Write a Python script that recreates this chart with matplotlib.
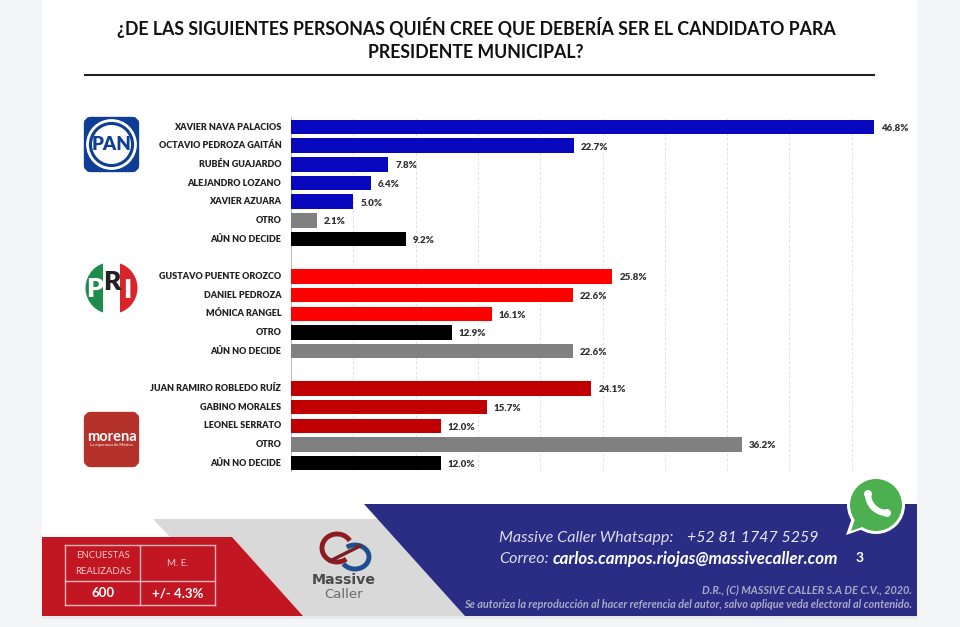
import matplotlib
matplotlib.use("Agg")
import matplotlib.pyplot as plt
from matplotlib.patches import Polygon, Rectangle, Circle, FancyBboxPatch, Wedge, Arc
import numpy as np

plt.rcParams["font.family"] = ["Lato", "DejaVu Sans"]

W, H = 960, 627

PAN_NAMES = ["XAVIER NAVA PALACIOS", "OCTAVIO PEDROZA GAITÁN", "RUBÉN GUAJARDO",
             "ALEJANDRO LOZANO", "XAVIER AZUARA", "OTRO", "AÚN NO DECIDE"]
PAN_VALUES = [46.8, 22.7, 7.8, 6.4, 5.0, 2.1, 9.2]

PRI_NAMES = ["GUSTAVO PUENTE OROZCO", "DANIEL PEDROZA", "MÓNICA RANGEL", "OTRO", "AÚN NO DECIDE"]
PRI_VALUES = [25.8, 22.6, 16.1, 12.9, 22.6]

MORENA_NAMES = ["JUAN RAMIRO ROBLEDO RUÍZ", "GABINO MORALES", "LEONEL SERRATO", "OTRO", "AÚN NO DECIDE"]
MORENA_VALUES = [24.1, 15.7, 12.0, 36.2, 12.0]

BLUE, RED, DARK_RED, GRAY, BLACK = "#0808BE", "#FF0000", "#C00000", "#808080", "#000000"
PAN_COLORS = [BLUE] * 5 + [GRAY, BLACK]
PRI_COLORS = [RED] * 3 + [BLACK, GRAY]
MORENA_COLORS = [DARK_RED] * 3 + [GRAY, BLACK]

GROUP_START = [0, 8, 14]

fig = plt.figure(figsize=(W / 100, H / 100), dpi=100, facecolor="#F3F5F7")

# page + decorations live in a pixel-coordinate axes
bg = fig.add_axes([0, 0, 1, 1], zorder=0)
bg.set_xlim(0, W)
bg.set_ylim(H, 0)
bg.axis("off")

bg.add_patch(Rectangle((42, 0), 875, 617, fc="white", ec="none"))
bg.add_patch(Rectangle((42, 616), 875, 3, fc="#E6E8EA", ec="none"))

bg.text(476, 27, "¿DE LAS SIGUIENTES PERSONAS QUIÉN CREE QUE DEBERÍA SER EL CANDIDATO PARA",
        ha="center", va="center", fontsize=12.75, fontweight="bold", color="#111111")
bg.text(476, 52, "PRESIDENTE MUNICIPAL?", ha="center", va="center",
        fontsize=12.75, fontweight="bold", color="#111111")
bg.plot([85, 874], [75, 75], color="#222222", lw=1.5)

# footer shapes
bg.add_patch(Polygon([(153, 519), (400, 519), (490, 616), (303, 616), (232, 537), (170, 537)],
                     fc="#D9D9D9", ec="none"))
bg.add_patch(Polygon([(42, 537), (232, 537), (303, 616), (42, 616)], fc="#C21623", ec="none"))
bg.add_patch(Polygon([(364, 504), (917, 504), (917, 616), (465, 616)], fc="#2B2D84", ec="none"))

# table in the red block
tbl = "#EFB7BA"
for x0, x1, y0, y1 in [(65, 215, 545, 545), (65, 215, 581, 581), (65, 215, 605, 605),
                       (65, 65, 545, 605), (140, 140, 545, 605), (215, 215, 545, 605)]:
    bg.plot([x0, x1], [y0, y1], color=tbl, lw=1)
bg.text(103, 556, "ENCUESTAS", ha="center", va="center", fontsize=6.8, color="#F3C9CB")
bg.text(103, 571, "REALIZADAS", ha="center", va="center", fontsize=6.8, color="#F3C9CB")
bg.text(178, 564, "M. E.", ha="center", va="center", fontsize=7, color="#F3C9CB")
bg.text(103, 593, "600", ha="center", va="center", fontsize=9.5, fontweight="bold", color="white")
bg.text(178, 593, "+/- 4.3%", ha="center", va="center", fontsize=9.5, fontweight="bold", color="white")

# massive caller logo
bg.add_patch(Arc((337, 548), 30, 28, theta1=50, theta2=330, color="#8E1B1E", lw=3.5))
bg.add_patch(Arc((355, 557), 28, 24, theta1=230, theta2=150, color="#1F4F8F", lw=3.5))
bg.plot([330, 360], [561, 546], color="#7A1F24", lw=2.5)
bg.text(344, 580, "Massive", ha="center", va="center", fontsize=10.2, color="#4A4A4A",
        fontweight="bold", family="DejaVu Sans")
bg.text(344, 594, "Caller", ha="center", va="center", fontsize=9.5, color="#6A6A6A",
        family="DejaVu Sans")

# footer contact text
bg.text(499, 538, "Massive Caller Whatsapp:", ha="left", va="center", fontsize=11.6,
        style="italic", color="#DADBEC")
bg.text(687, 538, "+52 81 1747 5259", ha="left", va="center", fontsize=11.4,
        style="italic", color="#E8E8F2")
bg.text(499, 559, "Correo:", ha="left", va="center", fontsize=11.6, style="italic",
        color="#DADBEC")
bg.text(553, 559, "carlos.campos.riojas@massivecaller.com", ha="left", va="center",
        fontsize=12.2, style="italic", fontweight="bold", color="white")
bg.text(860, 558, "3", ha="center", va="center", fontsize=10, fontweight="bold", color="white")
bg.text(912, 590, "D.R., (C) MASSIVE CALLER S.A DE C.V., 2020.", ha="right", va="center",
        fontsize=7.8, style="italic", fontweight="bold", color="#A8A9C8")
bg.text(912, 604, "Se autoriza la reproducción al hacer referencia del autor, salvo aplique veda electoral al contenido.",
        ha="right", va="center", fontsize=7.8, style="italic", fontweight="bold", color="#A8A9C8")

# whatsapp badge
bg.add_patch(Polygon([(846, 535), (853, 515), (866, 528)], fc="white", ec="none"))
bg.add_patch(Circle((876, 505), 29, fc="white", ec="none"))
bg.add_patch(Polygon([(851, 531), (856, 516), (865, 526)], fc="#4CAF50", ec="none"))
bg.add_patch(Circle((876, 505), 26, fc="#4CAF50", ec="none"))
bg.add_patch(Arc((887, 494), 38, 38, theta1=88, theta2=182, color="white", lw=4.5))
bg.add_patch(Circle((868, 494), 4, fc="white", ec="none"))
bg.add_patch(Circle((887, 513), 4, fc="white", ec="none"))

# party logos
bg.add_patch(FancyBboxPatch((88, 121), 47, 47, boxstyle="round,pad=0,rounding_size=3",
                            mutation_scale=1, fc="#0F3E96", ec="#0F3E96", lw=6))
bg.add_patch(Circle((111.5, 144.5), 24, fc="#0F3E96", ec="white", lw=2))
bg.add_patch(Circle((111.5, 144.5), 19.5, fc="white", ec="none"))
bg.text(111.5, 144.5, "PAN", ha="center", va="center", fontsize=13.5, fontweight="heavy",
        color="#0F3E96")

bg.add_patch(Wedge((111.5, 288), 26, 90, 270, width=26, fc="#1E8C4B", ec="none"))
bg.add_patch(Wedge((111.5, 288), 26, -90, 90, width=26, fc="#D9252A", ec="none"))
bg.add_patch(Rectangle((103, 260), 17, 56, fc="white", ec="none"))
bg.text(95, 289, "P", ha="center", va="center", fontsize=19, fontweight="heavy", color="white")
bg.text(112, 282, "R", ha="center", va="center", fontsize=19, fontweight="heavy", color="#222222")
bg.text(127, 290, "I", ha="center", va="center", fontsize=19, fontweight="heavy", color="white")

bg.add_patch(FancyBboxPatch((88, 416), 47, 47, boxstyle="round,pad=0,rounding_size=3",
                            mutation_scale=1, fc="#B5322B", ec="#B5322B", lw=6))
bg.text(111.5, 437, "morena", ha="center", va="center", fontsize=10.5, fontweight="bold", color="white")
bg.text(111.5, 445, "La esperanza de México", ha="center", va="center", fontsize=3, color="white")

# the chart itself, x in percent, y in rows
ax_left, ax_right = 291, 914
ax_top, ax_bottom = 117, 471
row0_px, row_px = 127, 18.67
ax = fig.add_axes([ax_left / W, 1 - ax_bottom / H, (ax_right - ax_left) / W, (ax_bottom - ax_top) / H],
                  zorder=1)
ax.patch.set_alpha(0)
ax.set_xlim(0, 50)
ax.set_ylim((ax_bottom - row0_px) / row_px, (ax_top - row0_px) / row_px)

groups = [(PAN_NAMES, PAN_VALUES, PAN_COLORS),
          (PRI_NAMES, PRI_VALUES, PRI_COLORS),
          (MORENA_NAMES, MORENA_VALUES, MORENA_COLORS)]
for start, (names, values, colors) in zip(GROUP_START, groups):
    rows = start + np.arange(len(values))
    ax.barh(rows, values, height=0.77, color=colors, zorder=3)
    for r, name, v in zip(rows, names, values):
        ax.annotate(f"{v:.1f}%", (v, r), xytext=(5, -1), textcoords="offset points",
                    ha="left", va="center", fontsize=7, fontweight="heavy", color="#333333")
        ax.annotate(name, (0, r), xytext=(-7, 0), textcoords="offset points",
                    ha="right", va="center", fontsize=6.5, fontweight="heavy",
                    color="#222222", annotation_clip=False)

ax.set_xticks(np.arange(5, 55, 5))
ax.set_yticks([])
ax.tick_params(axis="x", length=0, labelbottom=False)
ax.grid(axis="x", color="#E2E2E2", lw=0.7, ls=(0, (3, 2)), zorder=0)
for side in ["top", "right", "bottom"]:
    ax.spines[side].set_visible(False)
ax.spines["left"].set_color("#BFBFBF")
ax.spines["left"].set_linewidth(0.8)

fig.savefig("out.png", dpi=100, facecolor=fig.get_facecolor())
